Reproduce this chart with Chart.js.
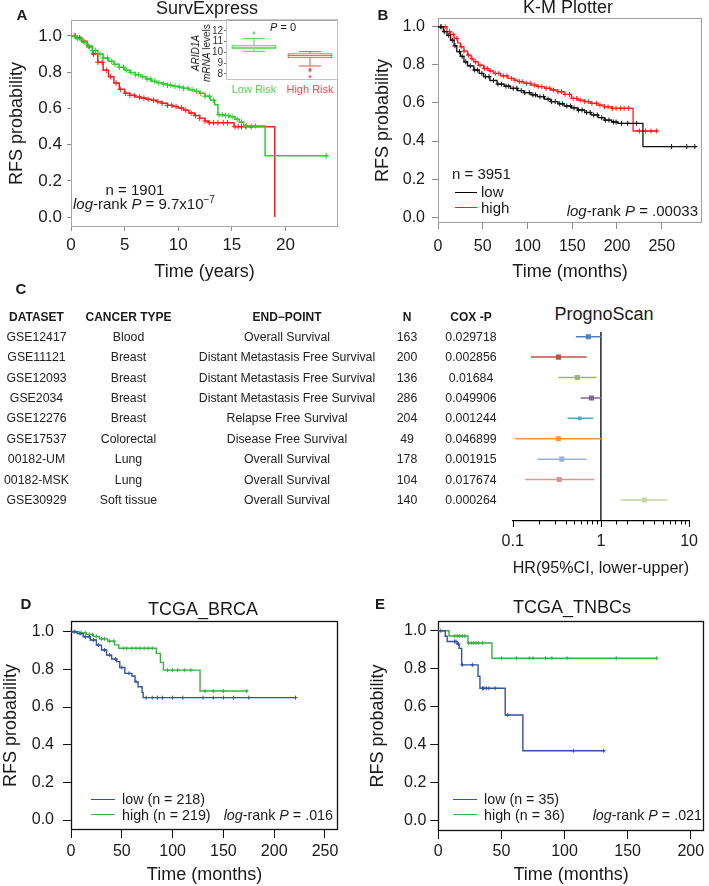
<!DOCTYPE html>
<html>
<head>
<meta charset="utf-8">
<title>ARID1A survival</title>
<script src="https://cdn.jsdelivr.net/npm/chart.js@4.4.1/dist/chart.umd.min.js"></script>
<style>
html,body{margin:0;padding:0;background:#fff;}
#wrap{position:relative;width:709px;height:886px;overflow:hidden;font-family:"Liberation Sans",Arial,Helvetica,sans-serif;color:#1a1a1a;}
#wrap canvas{position:absolute;}
.t{position:absolute;white-space:nowrap;line-height:1;}
.c{transform:translate(-50%,-50%);}
.l{transform:translate(0,-50%);}
.r{transform:translate(-100%,-50%);}
.pl{font-weight:bold;font-size:15px;}
.ttl{font-size:18px;}
.ann{font-size:15px;}
.ann2{font-size:14.3px;}
.hd{font-weight:bold;font-size:12px;}
.cell{font-size:12.3px;color:#222;}
.leg{position:absolute;height:0;border-top-style:solid;border-top-width:1.5px;}
sup{font-size:10px;vertical-align:6px;line-height:0;}
.rot{position:absolute;transform:translate(-50%,-50%) rotate(-90deg);font-size:10px;line-height:1.1;text-align:center;white-space:nowrap;}
</style>
</head>
<body>
<div id="wrap">
<canvas id="cA" width="350" height="290" style="left:0;top:0"></canvas>
<canvas id="cAin" width="155" height="90" style="left:190px;top:10px"></canvas>
<canvas id="cB" width="359" height="290" style="left:350px;top:0"></canvas>
<canvas id="cF" width="229" height="260" style="left:480px;top:325px"></canvas>
<canvas id="cD" width="350" height="296" style="left:0;top:590px"></canvas>
<canvas id="cE" width="359" height="296" style="left:350px;top:590px"></canvas>

<!-- Panel A texts -->
<div class="t c pl" style="left:22px;top:14px">A</div>
<div class="t c ttl" style="left:207px;top:8px">SurvExpress</div>
<div class="t c" style="left:283px;top:27px;font-size:11px"><i>P</i> = 0</div>
<div class="rot" style="left:201px;top:53px"><i>ARID1A</i><br><i>mRNA</i> levels</div>
<div class="t c ann" style="left:135px;top:189px">n = 1901</div>
<div class="t l ann" style="left:73px;top:203px"><i>log</i>-rank <i>P</i> = 9.7x10<sup>−7</sup></div>

<!-- Panel B texts -->
<div class="t c pl" style="left:383px;top:14px">B</div>
<div class="t c ttl" style="left:568px;top:7px">K-M Plotter</div>
<div class="t l ann" style="left:452px;top:173px">n = 3951</div>
<div class="leg" style="left:455px;top:192px;width:22px;border-top-color:#000000"></div>
<div class="leg" style="left:455px;top:207px;width:22px;border-top-color:#ff1a1a"></div>
<div class="t l ann" style="left:481px;top:191px">low</div>
<div class="t l ann" style="left:481px;top:207px">high</div>
<div class="t r ann" style="left:698px;top:210px"><i>log</i>-rank <i>P</i> = .00033</div>

<!-- Panel C texts -->
<div class="t c pl" style="left:21px;top:288px">C</div>
<div class="t c ttl" style="left:604px;top:314px">PrognoScan</div>

<!-- Panel D texts -->
<div class="t c pl" style="left:26px;top:603px">D</div>
<div class="t c ttl" style="left:203px;top:609px">TCGA_BRCA</div>
<div class="leg" style="left:91px;top:799px;width:24px;border-top-color:#3352a4"></div>
<div class="leg" style="left:91px;top:814px;width:24px;border-top-color:#3cb043"></div>
<div class="t l ann2" style="left:122px;top:799px">low (n = 218)</div>
<div class="t l ann2" style="left:122px;top:815px">high (n = 219)</div>
<div class="t r ann2" style="left:333px;top:815px"><i>log</i>-rank <i>P</i> = .016</div>

<!-- Panel E texts -->
<div class="t c pl" style="left:380px;top:603px">E</div>
<div class="t c ttl" style="left:572px;top:607px">TCGA_TNBCs</div>
<div class="leg" style="left:453px;top:799px;width:24px;border-top-color:#3352a4"></div>
<div class="leg" style="left:453px;top:814px;width:24px;border-top-color:#3cb043"></div>
<div class="t l ann2" style="left:484px;top:799px">low (n = 35)</div>
<div class="t l ann2" style="left:484px;top:815px">high (n = 36)</div>
<div class="t r ann2" style="left:702px;top:815px"><i>log</i>-rank <i>P</i> = .021</div>
</div>

<script>
// ===================== DATA =====================
// Panel A: SurvExpress (time in years, RFS probability)
const aLowT  = [0,0.5,1,1.5,2,2.5,3,3.5,4,4.5,5,5.5,6,6.5,7,7.5,8,8.5,9,9.5,10,10.5,11,11.5,12,12.5,13,13.4,13.7,14.2,14.8,15.3,15.7,16.1,18.1,24];
const aLowS  = [1,0.985,0.965,0.945,0.92,0.9,0.878,0.86,0.843,0.827,0.811,0.798,0.786,0.775,0.762,0.75,0.742,0.735,0.728,0.722,0.718,0.711,0.703,0.695,0.683,0.667,0.645,0.62,0.565,0.56,0.554,0.54,0.525,0.503,0.338,0.338];
const aLowCensor = [0.3,0.6,0.9,1.3,1.6,2.0,2.3,2.7,3.0,3.4,3.8,4.1,4.5,4.9,5.2,5.6,6.0,6.3,6.7,7.1,7.4,7.8,8.2,8.6,9.0,9.3,9.7,10.1,10.5,10.9,11.3,11.7,12.1,12.5,12.9,13.3,13.8,14.1,14.4,14.7,15.1,15.5,15.9,16.4,17.2,23.8];
const aHighT = [0,0.5,1,1.5,2,2.5,3,3.5,4,4.5,5,5.5,6,6.5,7,7.5,8,8.5,9,9.5,10,10.5,11,11.5,12,12.5,12.8,15.2,19];
const aHighS = [1,0.99,0.97,0.94,0.9,0.855,0.81,0.775,0.74,0.705,0.683,0.672,0.663,0.657,0.65,0.645,0.637,0.628,0.617,0.61,0.602,0.59,0.575,0.56,0.545,0.53,0.521,0.499,0];
const aHighCensor = [0.4,0.8,1.2,1.7,2.1,2.5,2.9,3.3,3.7,4.2,4.6,5.1,5.5,5.9,6.4,6.8,7.2,7.7,8.1,8.5,9.0,9.4,9.8,10.3,10.7,11.2,11.6,12.0,12.5,12.9,13.3,13.7,14.2,14.6,15.3,15.6,15.9,16.3,16.8];
const aXTicks = [0,5,10,15,20];

// Panel A inset: ARID1A mRNA levels boxplot
const insetCats   = ['Low Risk','High Risk'];
const insetQ1     = [10.3, 9.46];
const insetMed    = [10.48, 9.7];
const insetQ3     = [10.7, 9.93];
const insetWLo    = [10.1, 8.74];
const insetWHi    = [11.3, 10.07];
const insetOut    = [[11.8],[8.45,8.3,7.75]];
const insetYTicks = [8,9,10,11,12];

// Panel B: K-M Plotter (months)
const bLowT  = [0,6,10,14,18,21,25,29,33,40,46,51,58,66,74,81,89,96,104,111,119,126,134,141,149,156,164,171,179,186,194,201,229,289];
const bLowS  = [1,0.974,0.955,0.93,0.9,0.869,0.845,0.816,0.795,0.773,0.755,0.738,0.718,0.699,0.688,0.677,0.665,0.654,0.643,0.633,0.62,0.607,0.596,0.584,0.574,0.563,0.55,0.537,0.523,0.51,0.5,0.493,0.371,0.371];
const bLowCensor = [3,7,12,16,19,24,27,31,36,41,44,49,53,57,62,67,71,76,79,84,88,93,97,102,106,109,114,118,123,127,131,136,139,144,148,152,157,161,166,170,174,178,183,187,191,196,199,205,212,222,261,278,287];
const bHighT = [0,10,14,18,22,25,29,33,37,40,45,51,57,62,70,78,85,89,96,104,111,119,126,134,141,149,156,164,171,179,186,194,218,246];
const bHighS = [1,0.974,0.96,0.939,0.915,0.895,0.872,0.851,0.832,0.816,0.798,0.781,0.768,0.755,0.742,0.729,0.72,0.712,0.703,0.694,0.686,0.677,0.668,0.659,0.645,0.624,0.615,0.607,0.598,0.589,0.58,0.572,0.453,0.453];
const bHighCensor = [4,8,13,17,21,26,29,34,38,42,47,52,55,59,64,68,73,77,82,86,91,94,99,103,108,112,116,121,125,129,134,138,142,147,151,155,159,164,168,172,177,181,186,190,195,199,204,208,213,225,232,238,244];
const bXTicks = [0,50,100,150,200,250];

// Panel C: PrognoScan table + forest plot
const pgDataset = ['GSE12417','GSE11121','GSE12093','GSE2034','GSE12276','GSE17537','00182-UM','00182-MSK','GSE30929'];
const pgCancer  = ['Blood','Breast','Breast','Breast','Breast','Colorectal','Lung','Lung','Soft tissue'];
const pgEndpoint= ['Overall Survival','Distant Metastasis Free Survival','Distant Metastasis Free Survival','Distant Metastasis Free Survival','Relapse Free Survival','Disease Free Survival','Overall Survival','Overall Survival','Overall Survival'];
const pgN       = ['163','200','136','286','204','49','178','104','140'];
const pgCoxP    = ['0.029718','0.002856','0.01684','0.049906','0.001244','0.046899','0.001915','0.017674','0.000264'];
const pgHR      = [0.72,0.33,0.54,0.78,0.575,0.33,0.36,0.337,3.11];
const pgLower   = [0.52,0.161,0.33,0.59,0.418,0.107,0.19,0.139,1.68];
const pgUpper   = [1.0,0.69,0.89,1.0,0.82,1.0,0.69,0.84,5.63];
const pgColors  = ['#4f81bd','#c0504d','#9bbb59','#8064a2','#4bacc6','#f79646','#95b3d7','#d99694','#c3d69b'];
const pgMarkerR = [3.6,3.6,3.6,3.6,2.6,3.6,3.6,3.6,3.4];
const pgHeaders = ['DATASET','CANCER TYPE','END\u2212POINT','N','COX -P'];

// Panel D: TCGA_BRCA (months)
const dLowT  = [0,6,12,19,25,30,35,40,45,48,53,60,63,66,70,71,221];
const dLowS  = [1,0.99,0.973,0.956,0.929,0.903,0.876,0.855,0.841,0.81,0.779,0.765,0.735,0.708,0.678,0.65,0.65];
const dLowCensor = [3,9,14,18,22,27,33,38,44,50,57,64,74,80,85,90,100,110,130,140,150,160,175,221];
const dHighT = [0,8,15,22,28,36,43,47,84,88,91,127,174];
const dHighS = [1,0.995,0.985,0.975,0.962,0.95,0.93,0.912,0.885,0.837,0.796,0.685,0.685];
const dHighCensor = [4,10,14,18,21,25,30,33,38,42,52,55,60,64,68,72,76,80,95,100,105,112,118,132,140,150,173];
const dXTicks = [0,50,100,150,200,250];

// Panel E: TCGA_TNBCs (months)
const eLowT  = [0,5.5,7,15,16.5,18.5,31.5,33,53,67,132];
const eLowS  = [1,0.971,0.943,0.929,0.907,0.82,0.76,0.697,0.556,0.368,0.368];
const eLowCensor = [2,13,14,16,19,27,35,36,38,40,45,55,107,131];
const eHighT = [0,8.5,23.5,42.5,173];
const eHighS = [1,0.972,0.935,0.855,0.855];
const eHighCensor = [13,15,17,19,21,24,26,28,30,32,35,50,62,72,75,85,90,102,141,173];
const eXTicks = [0,50,100,150,200];

const yTicksKM = [0,0.2,0.4,0.6,0.8,1.0];

// ===================== HELPERS =====================
Chart.defaults.font.family = '"Liberation Sans", Arial, Helvetica, sans-serif';
Chart.defaults.color = '#1a1a1a';

function stepAt(T, S, t) {
  let v = S[0];
  for (let i = 0; i < T.length; i++) { if (T[i] <= t) v = S[i]; else break; }
  return v;
}

const framePlugin = {
  id: 'frame',
  beforeDatasetsDraw(chart, args, o) {
    if (!o || !o.color) return;
    const a = chart.chartArea, ctx = chart.ctx;
    ctx.save();
    ctx.strokeStyle = o.color;
    ctx.lineWidth = o.width || 1;
    const l = Math.round(a.left) + 0.5, t = Math.round(a.top) + 0.5;
    const r = Math.round(a.right) - 0.5, b = Math.round(a.bottom) - 0.5;
    ctx.strokeRect(l, t, r - l, b - t);
    ctx.restore();
  }
};

function kmChart(id, cfg) {
  const ds = [];
  cfg.series.forEach(s => {
    ds.push({
      data: s.t.map((x, i) => ({x: x, y: s.s[i]})),
      borderColor: s.color, borderWidth: cfg.lw, stepped: 'before',
      pointRadius: 0, fill: false, clip: false
    });
    ds.push({
      data: s.c.map(x => ({x: x, y: stepAt(s.t, s.s, x)})),
      showLine: false, pointStyle: 'cross', pointRadius: cfg.cr,
      pointBorderColor: s.color, borderColor: s.color, pointBorderWidth: 1, clip: false
    });
  });
  return new Chart(document.getElementById(id), {
    type: 'line',
    data: {datasets: ds},
    options: {
      responsive: false, animation: false, devicePixelRatio: 1,
      events: [],
      layout: {padding: cfg.pad},
      plugins: {legend: {display: false}, tooltip: {enabled: false}, frame: {color: cfg.frame, width: cfg.frameW}},
      scales: {
        x: {
          type: 'linear', min: 0, max: cfg.xMax, bounds: 'data',
          afterBuildTicks: s => { s.ticks = cfg.xTicks.map(v => ({value: v})); },
          afterFit: s => { s.height = cfg.xH; },
          ticks: {font: {size: cfg.fs}, color: '#1a1a1a', padding: cfg.xPad, autoSkip: false, maxRotation: 0,
                  callback: v => String(v)},
          grid: {drawOnChartArea: false, drawTicks: true, tickLength: cfg.tl, tickColor: cfg.tickColor, color: cfg.tickColor},
          border: {display: false},
          title: {display: true, text: cfg.xTitle, font: {size: 18}, color: '#1a1a1a', padding: 0}
        },
        y: {
          type: 'linear', min: cfg.yMin, max: cfg.yMax, bounds: 'data',
          afterBuildTicks: s => { s.ticks = yTicksKM.map(v => ({value: v})); },
          afterFit: s => { s.width = cfg.yW; },
          ticks: {font: {size: cfg.fs}, color: '#1a1a1a', padding: cfg.yPad, autoSkip: false,
                  callback: v => Number(v).toFixed(1)},
          grid: {drawOnChartArea: false, drawTicks: true, tickLength: cfg.tl, tickColor: cfg.tickColor, color: cfg.tickColor},
          border: {display: false},
          title: {display: true, text: 'RFS probability', font: {size: 18}, color: '#1a1a1a', padding: 0}
        }
      }
    },
    plugins: [framePlugin]
  });
}

// ===================== PANEL A =====================
kmChart('cA', {
  series: [
    {t: aLowT, s: aLowS, c: aLowCensor, color: '#2ecc2e'},
    {t: aHighT, s: aHighS, c: aHighCensor, color: '#f42020'}
  ],
  lw: 1.5, cr: 2.8, pad: {left: 6, right: 12, top: 20, bottom: 7}, yW: 65, xH: 56,
  xMax: 24.9, yMin: -0.055, yMax: 1.088, xTicks: aXTicks, fs: 17, tl: 4, xPad: 4, yPad: 5,
  tickColor: '#8c8c8c', frame: '#a6a6a6', frameW: 1, xTitle: 'Time (years)'
});

// Inset boxplot
const insetColors = ['#4fd14f', '#f04a4a'];
const boxPlugin = {
  id: 'boxwhisk',
  afterDatasetsDraw(chart) {
    const ys = chart.scales.y, ctx = chart.ctx;
    const meta = chart.getDatasetMeta(0);
    ctx.save();
    ctx.lineWidth = 1;
    insetCats.forEach((c, i) => {
      const bar = meta.data[i];
      const xc = bar.x, hw = bar.width / 2, cw = hw * 0.5;
      ctx.strokeStyle = insetColors[i];
      const py = v => ys.getPixelForValue(v);
      ctx.beginPath();
      ctx.moveTo(xc - hw, py(insetMed[i])); ctx.lineTo(xc + hw, py(insetMed[i]));
      ctx.moveTo(xc, py(insetQ3[i])); ctx.lineTo(xc, py(insetWHi[i]));
      ctx.moveTo(xc - cw, py(insetWHi[i])); ctx.lineTo(xc + cw, py(insetWHi[i]));
      ctx.moveTo(xc, py(insetQ1[i])); ctx.lineTo(xc, py(insetWLo[i]));
      ctx.moveTo(xc - cw, py(insetWLo[i])); ctx.lineTo(xc + cw, py(insetWLo[i]));
      ctx.stroke();
    });
    ctx.restore();
  }
};
const outPts = [];
insetOut.forEach((arr, i) => arr.forEach(v => outPts.push({x: insetCats[i], y: v, c: insetColors[i]})));
new Chart(document.getElementById('cAin'), {
  type: 'bar',
  data: {
    labels: insetCats,
    datasets: [
      {data: insetCats.map((c, i) => [insetQ1[i], insetQ3[i]]), backgroundColor: 'rgba(255,255,255,0)',
       borderColor: insetColors, borderWidth: 1, borderSkipped: false, barPercentage: 0.8, categoryPercentage: 1, grouped: false},
      {type: 'line', data: outPts.map(p => ({x: p.x, y: p.y})), showLine: false, pointStyle: 'cross', pointRadius: 1.6,
       pointBorderColor: outPts.map(p => p.c), pointBorderWidth: 1}
    ]
  },
  options: {
    responsive: false, animation: false, devicePixelRatio: 1, events: [],
    layout: {padding: {left: 0, right: 7, top: 9, bottom: 0}},
    plugins: {legend: {display: false}, tooltip: {enabled: false}, frame: {color: '#c4c4c4', width: 1}},
    scales: {
      x: {type: 'category', offset: true,
          afterFit: s => { s.height = 20; },
          ticks: {font: {size: 11}, padding: 3, color: ctx => insetColors[ctx.index], autoSkip: false, maxRotation: 0},
          grid: {display: false, drawTicks: false}, border: {display: false}},
      y: {type: 'linear', min: 7.44, max: 13.1, bounds: 'data',
          afterBuildTicks: s => { s.ticks = insetYTicks.map(v => ({value: v})); },
          afterFit: s => { s.width = 36; },
          ticks: {font: {size: 10}, padding: 1, color: '#333', autoSkip: false},
          grid: {drawOnChartArea: false, tickLength: 2, tickColor: '#777'}, border: {display: false}}
    }
  },
  plugins: [framePlugin, boxPlugin]
});

// ===================== PANEL B =====================
kmChart('cB', {
  series: [
    {t: bLowT, s: bLowS, c: bLowCensor, color: '#111111'},
    {t: bHighT, s: bHighS, c: bHighCensor, color: '#ff1a1a'}
  ],
  lw: 1.3, cr: 2.5, pad: {left: 22, right: 7, top: 18, bottom: 7.5}, yW: 66, xH: 59.5,
  xMax: 295, yMin: -0.03, yMax: 1.046, xTicks: bXTicks, fs: 16, tl: 6, xPad: 8, yPad: 7,
  tickColor: '#8c8c8c', frame: '#a0a0a0', frameW: 1, xTitle: 'Time (months)'
});

// ===================== PANEL C: table =====================
const wrap = document.getElementById('wrap');
const colX = [36.5, 128.5, 287, 407, 471];
const headY = 316.7, row0Y = 336.7, rowStep = 20.4;
function addText(txt, x, y, cls) {
  const d = document.createElement('div');
  d.className = 't c ' + cls;
  d.style.left = x + 'px'; d.style.top = y + 'px';
  d.textContent = txt;
  wrap.appendChild(d);
}
pgHeaders.forEach((h, j) => addText(h, colX[j], headY, 'hd'));
pgDataset.forEach((name, i) => {
  const y = row0Y + i * rowStep;
  [pgDataset[i], pgCancer[i], pgEndpoint[i], pgN[i], pgCoxP[i]].forEach((v, j) => addText(v, colX[j], y, 'cell'));
});

// Forest plot
const fyMin = -0.245, fyMax = 9.03;
const fDs = [];
pgDataset.forEach((n, i) => {
  fDs.push({data: [{x: pgLower[i], y: i}, {x: pgUpper[i], y: i}], borderColor: pgColors[i], borderWidth: 1.5, pointRadius: 0});
});
fDs.push({data: pgHR.map((h, i) => ({x: h, y: i})), showLine: false, pointStyle: 'rect', pointRadius: pgMarkerR,
          pointBackgroundColor: pgColors, pointBorderColor: pgColors, pointBorderWidth: 0});
fDs.push({data: [{x: 1, y: fyMin}, {x: 1, y: fyMax}], borderColor: '#000', borderWidth: 1.3, pointRadius: 0});
const isDecade = v => { const l = Math.log10(v); return Math.abs(l - Math.round(l)) < 1e-6; };
const logTickPlugin = {
  id: 'logticks',
  afterDraw(chart) {
    const s = chart.scales.x, ctx = chart.ctx, y = chart.chartArea.bottom;
    ctx.save(); ctx.strokeStyle = '#000'; ctx.lineWidth = 1;
    s.ticks.forEach(t => {
      const x = Math.round(s.getPixelForValue(t.value)) + 0.5;
      ctx.beginPath(); ctx.moveTo(x, y); ctx.lineTo(x, y + (isDecade(t.value) ? 6 : 3.5)); ctx.stroke();
    });
    ctx.restore();
  }
};
new Chart(document.getElementById('cF'), {
  type: 'line',
  data: {datasets: fDs},
  options: {
    responsive: false, animation: false, devicePixelRatio: 1, events: [],
    layout: {padding: {left: 32.7, right: 9.7, top: 6.7, bottom: 6.8}},
    plugins: {legend: {display: false}, tooltip: {enabled: false}},
    scales: {
      x: {type: 'logarithmic', min: 0.1, max: 10,
          afterFit: s => { s.height = 57.2; },
          ticks: {autoSkip: false, maxRotation: 0, padding: 11, font: {size: 16}, color: '#1a1a1a',
                  callback: v => isDecade(v) ? (v < 1 ? Number(v).toFixed(1) : String(Math.round(v))) : ''},
          grid: {display: false, drawTicks: false},
          border: {display: true, color: '#000', width: 1.3},
          title: {display: true, text: 'HR(95%CI, lower-upper)', font: {size: 17}, color: '#1a1a1a', padding: 0}},
      y: {type: 'linear', min: fyMin, max: fyMax, reverse: true, display: false}
    }
  },
  plugins: [logTickPlugin]
});

// ===================== PANEL D =====================
kmChart('cD', {
  series: [
    {t: dLowT, s: dLowS, c: dLowCensor, color: '#3352a4'},
    {t: dHighT, s: dHighS, c: dHighCensor, color: '#3cb043'}
  ],
  lw: 1.4, cr: 2, pad: {left: 0, right: 12, top: 31, bottom: 0}, yW: 71, xH: 56,
  xMax: 262.8, yMin: -0.053, yMax: 1.057, xTicks: dXTicks, fs: 16, tl: 8, xPad: 4, yPad: 9,
  tickColor: '#111', frame: '#111', frameW: 1.3, xTitle: 'Time (months)'
});

// ===================== PANEL E =====================
kmChart('cE', {
  series: [
    {t: eLowT, s: eLowS, c: eLowCensor, color: '#3352a4'},
    {t: eHighT, s: eHighS, c: eHighCensor, color: '#3cb043'}
  ],
  lw: 1.4, cr: 2, pad: {left: 17, right: 3, top: 31, bottom: 0}, yW: 71.3, xH: 55,
  xMax: 210.5, yMin: -0.054, yMax: 1.051, xTicks: eXTicks, fs: 16, tl: 8, xPad: 3, yPad: 4,
  tickColor: '#111', frame: '#111', frameW: 1.3, xTitle: 'Time (months)'
});
</script>
</body>
</html>
